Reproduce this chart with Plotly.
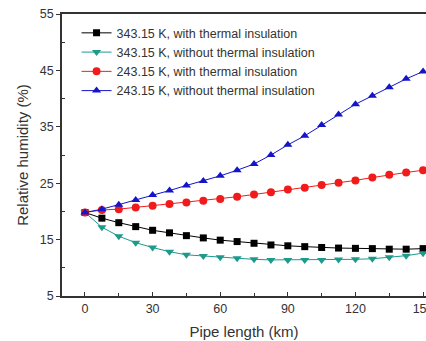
import plotly.graph_objects as go

pipe_length = [0, 7.5, 15, 22.5, 30, 37.5, 45, 52.5, 60, 67.5, 75, 82.5, 90,
               97.5, 105, 112.5, 120, 127.5, 135, 142.5, 150]

rh_343_ins = [19.8, 18.8, 18.0, 17.3, 16.65, 16.2, 15.7, 15.3, 14.9, 14.65, 14.35,
              14.05, 13.9, 13.75, 13.6, 13.5, 13.45, 13.4, 13.3, 13.3, 13.4]
rh_343_noins = [19.8, 17.2, 15.6, 14.45, 13.6, 12.85, 12.3, 12.1, 11.85, 11.7, 11.5,
                11.4, 11.4, 11.4, 11.4, 11.45, 11.5, 11.6, 11.85, 12.15, 12.6]
rh_243_ins = [19.8, 20.25, 20.4, 20.7, 21.0, 21.3, 21.6, 21.9, 22.2, 22.6, 23.0,
              23.4, 23.9, 24.2, 24.7, 25.1, 25.5, 26.0, 26.5, 26.9, 27.3]
rh_243_noins = [19.8, 20.4, 21.2, 22.0, 22.9, 23.7, 24.6, 25.4, 26.3, 27.3, 28.4,
                30.0, 31.8, 33.4, 35.3, 37.2, 39.0, 40.5, 42.0, 43.5, 44.8]

names = ["343.15 K, with thermal insulation",
         "343.15 K, without thermal insulation",
         "243.15 K, with thermal insulation",
         "243.15 K, without thermal insulation"]
series = [rh_343_ins, rh_343_noins, rh_243_ins, rh_243_noins]
colors = ["#000000", "#1e9a8c", "#f01c1c", "#1414c8"]
symbols = ["square", "triangle-down", "circle", "triangle-up"]
sizes = [7, 8, 8, 8]

x_ticks = [0, 30, 60, 90, 120, 150]
y_ticks = [5, 15, 25, 35, 45, 55]

fig = go.Figure()
for name, ys, c, s, sz in zip(names, series, colors, symbols, sizes):
    fig.add_trace(go.Scatter(
        x=pipe_length, y=ys, name=name, mode="lines+markers",
        line=dict(color=c, width=1),
        marker=dict(color=c, symbol=s, size=sz),
    ))

font = "Liberation Sans, Arial, sans-serif"
fig.update_layout(
    width=426, height=341,
    margin=dict(l=62, r=0, t=14, b=45),
    paper_bgcolor="white", plot_bgcolor="white",
    font=dict(family=font, size=12, color="#333333"),
    showlegend=True,
    legend=dict(x=0.04, y=0.985, xanchor="left", yanchor="top",
                bgcolor="rgba(0,0,0,0)", font=dict(size=12.5, color="#333333"),
                tracegroupgap=0, itemwidth=30),
    xaxis=dict(
        range=[-10.2, 151.3], tickvals=x_ticks, showgrid=False, zeroline=False,
        showline=True, linecolor="#333333", linewidth=1.5, mirror=True,
        ticks="inside", ticklen=4, tickcolor="#333333",
        ticklabeloverflow="allow", automargin=False,
        minor=dict(tickvals=[15, 45, 75, 105, 135], ticks="inside", ticklen=3,
                   tickcolor="#333333"),
        title=dict(text="Pipe length (km)", font=dict(size=15, color="#333333"),
                   standoff=12),
        tickfont=dict(size=12.5, color="#333333"),
    ),
    yaxis=dict(
        range=[5, 55], tickvals=y_ticks, showgrid=False, zeroline=False,
        showline=True, linecolor="#333333", linewidth=1.5, automargin=False,
        ticks="outside", ticklen=4, tickcolor="#333333",
        minor=dict(tickvals=[10, 20, 30, 40, 50], ticks="inside", ticklen=3,
                   tickcolor="#333333"),
        title=dict(text="Relative humidity (%)", font=dict(size=15, color="#333333"),
                   standoff=8),
        tickfont=dict(size=12.5, color="#333333"),
    ),
)

fig.write_html("out.html")
